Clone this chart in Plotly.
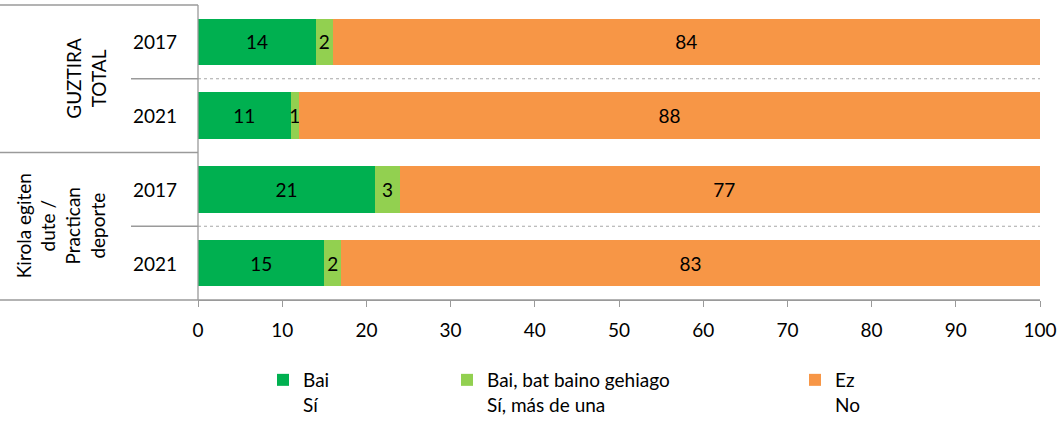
import plotly.graph_objects as go

groups = ["GUZTIRA<br>TOTAL", "Kirola egiten<br>dute /<br>Practican<br>deporte"]
years = ["2017", "2021", "2017", "2021"]
cats = ["TOTAL 2017", "TOTAL 2021", "DEP 2017", "DEP 2021"]
series_names = ["Bai<br>Sí", "Bai, bat baino gehiago<br>Sí, más de una", "Ez<br>No"]
bai = [14, 11, 21, 15]
bai_plus = [2, 1, 3, 2]
ez = [84, 88, 77, 83]
colors = ["#00B050", "#92D050", "#F79646"]

FONT = "Lato"
FS = 19
W, H = 1060, 421
L, R, T, B = 198, 20, 5, 121
PW = W - L - R
PH = H - T - B

def px_to_paper_x(px):
    return (px - L) / PW

def px_to_paper_y(py):
    return (H - B - py) / PH

fig = go.Figure()
legends = ["legend", "legend2", "legend3"]
for vals, name, col, lg in zip([bai, bai_plus, ez], series_names, colors, legends):
    fig.add_trace(go.Bar(
        y=cats, x=vals, orientation="h", name=name,
        marker=dict(color=col, line=dict(width=0)),
        text=[str(v) for v in vals], textposition="inside",
        insidetextanchor="middle", constraintext="none",
        textfont=dict(color="#000000", size=FS, family=FONT),
        width=0.63, legend=lg, showlegend=True, hoverinfo="x+name",
    ))

gray = "#9a9a9a"
shapes = []
for yv in [0.5, 2.5]:
    shapes.append(dict(type="line", xref="x", yref="y", x0=0, x1=100, y0=yv, y1=yv,
                       line=dict(color="#a8a8a8", width=1.2, dash="dot")))
    shapes.append(dict(type="line", xref="paper", yref="y", x0=px_to_paper_x(131), x1=0,
                       y0=yv, y1=yv, line=dict(color=gray, width=1.3)))
shapes.append(dict(type="line", xref="paper", yref="y", x0=px_to_paper_x(0), x1=0,
                   y0=1.5, y1=1.5, line=dict(color=gray, width=1.3)))
shapes.append(dict(type="line", xref="paper", yref="paper", x0=px_to_paper_x(0), x1=0,
                   y0=1, y1=1, line=dict(color=gray, width=1.3)))
shapes.append(dict(type="line", xref="paper", yref="paper", x0=px_to_paper_x(0), x1=1,
                   y0=0, y1=0, line=dict(color=gray, width=1.3)))
shapes.append(dict(type="line", xref="paper", yref="paper", x0=0, x1=0,
                   y0=0, y1=1, line=dict(color=gray, width=1.3)))

annotations = []
for i, yr in enumerate(years):
    annotations.append(dict(xref="paper", yref="y", x=px_to_paper_x(155), y=i, text=yr,
                            showarrow=False, font=dict(size=FS, family=FONT, color="#000"),
                            xanchor="center", yanchor="middle"))
annotations.append(dict(xref="paper", yref="y", x=px_to_paper_x(86), y=0.5, text=groups[0],
                        textangle=-90, showarrow=False,
                        font=dict(size=FS, family=FONT, color="#000"),
                        xanchor="center", yanchor="middle"))
annotations.append(dict(xref="paper", yref="y", x=px_to_paper_x(60), y=2.5, text=groups[1],
                        textangle=-90, showarrow=False,
                        font=dict(size=FS, family=FONT, color="#000"),
                        xanchor="center", yanchor="middle"))

leg_common = dict(orientation="h", yanchor="top", y=px_to_paper_y(361), xanchor="left",
                  font=dict(size=FS, family=FONT, color="#000"),
                  bgcolor="rgba(0,0,0,0)", itemwidth=30, valign="top")
fig.update_layout(
    width=W, height=H,
    margin=dict(l=L, r=R, t=T, b=B, autoexpand=False),
    barmode="stack",
    plot_bgcolor="white", paper_bgcolor="white",
    font=dict(family=FONT, size=FS, color="#000"),
    showlegend=True,
    xaxis=dict(range=[0, 100], dtick=10, showgrid=False, zeroline=False,
               ticks="outside", ticklen=6, tickcolor=gray, showline=True,
               linecolor=gray, linewidth=1.3, ticklabelstandoff=7, automargin=False,
               tickfont=dict(size=FS, family=FONT, color="#000")),
    yaxis=dict(categoryorder="array", categoryarray=cats, range=[3.5, -0.5],
               showticklabels=False, showgrid=False, zeroline=False, ticks="",
               automargin=False),
    shapes=shapes, annotations=annotations,
    legend=dict(x=px_to_paper_x(263), **leg_common),
    legend2=dict(x=px_to_paper_x(447), **leg_common),
    legend3=dict(x=px_to_paper_x(795), **leg_common),
)

fig.write_html("out.html", config={"displayModeBar": False},
               post_script="document.body.style.margin='0';document.body.style.overflow='hidden';")
